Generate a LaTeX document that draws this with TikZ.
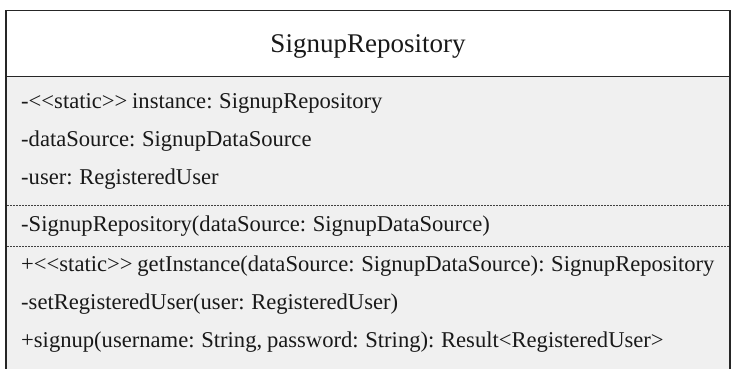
\documentclass[tikz,border=0pt]{standalone}
\usepackage{fontspec}
\setmainfont{Liberation Serif}[WordSpace=0.85]
\begin{document}
\begin{tikzpicture}[x=1pt,y=-1pt,
  classborder/.style={draw=black!85,line width=1.6pt},
  sepline/.style={draw=black!75,line width=0.9pt,dash pattern=on 2pt off 1pt},
  member/.style={anchor=base west,inner sep=0pt,font=\fontsize{22.6}{26}\selectfont,text=black!90},
  classname/.style={anchor=base,inner sep=0pt,font=\fontsize{27}{31}\selectfont,text=black!90}]
  \useasboundingbox (0,0) rectangle (732,368);
  % class compartments
  \fill[white] (6,10.5) rectangle (730,76.5);
  \fill[black!6] (6,76.5) rectangle (730,372);
  \draw[classborder] (6,372) -- (6,10.5) -- (730,10.5) -- (730,372);
  \draw[classborder] (6,76.5) -- (730,76.5);
  % class name
  \node[classname] (title) at (368,52) {SignupRepository};
  % attributes
  \node[member] (a1) at (21,108) {-<{}<static>{}> instance: SignupRepository};
  \node[member] (a2) at (21,146) {-dataSource: SignupDataSource};
  \node[member] (a3) at (21,184) {-user: RegisteredUser};
  \coordinate (s1l) at (7,205);
  \coordinate (s1r) at (729,205);
  \draw[sepline] (s1l) -- (s1r);
  % constructor
  \node[member] (c1) at (21,231) {-SignupRepository(dataSource: SignupDataSource)};
  \coordinate (s2l) at (7,246);
  \coordinate (s2r) at (729,246);
  \draw[sepline] (s2l) -- (s2r);
  % operations
  \node[member] (o1) at (21,271) {+<{}<static>{}> getInstance(dataSource: SignupDataSource): SignupRepository};
  \node[member] (o2) at (21,309) {-setRegisteredUser(user: RegisteredUser)};
  \node[member] (o3) at (21,347) {+signup(username: String, password: String): Result<RegisteredUser>};
\end{tikzpicture}
\end{document}
